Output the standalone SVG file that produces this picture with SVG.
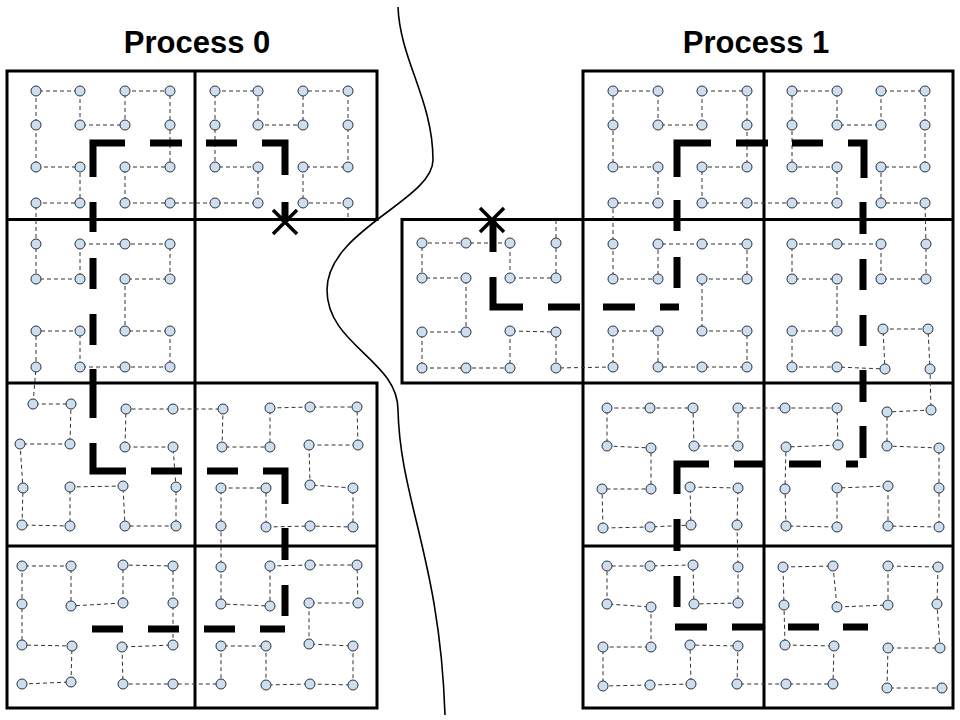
<svg xmlns="http://www.w3.org/2000/svg" width="960" height="720" viewBox="0 0 960 720">
<style>
.title{font-family:"Liberation Sans",Arial,sans-serif;font-weight:bold;font-size:31px;fill:#000;text-anchor:middle}
.grid{fill:none;stroke:#000;stroke-width:3;stroke-linecap:square}
.pt{fill:#cfdeee;stroke:#26323f;stroke-width:1}
.link{fill:none;stroke:#333;stroke-width:1;stroke-dasharray:4 3}
.thick{fill:none;stroke:#000;stroke-width:7;stroke-linecap:butt;stroke-linejoin:miter}
.xmark{fill:none;stroke:#000;stroke-width:3.5}
.sep{fill:none;stroke:#000;stroke-width:1.6}
</style>
<rect width="960" height="720" fill="#fff"/>
<text class="title" x="197" y="53">Process 0</text>
<text class="title" x="756" y="53">Process 1</text>
<path class="sep" d="M398,7 C400,60 433,100 433,160 C433,200 327,230 327,290 C327,345 398,360 398,410 C400,500 440,560 445,715"/>
<g id="grid">
<path class="grid" d="M7,71H377M7,219.5H377M7,383H377M7,546H377M7,708H377M7,71V708M195,71V708M377,71V219.5M377,383V708"/>
<path class="grid" d="M583,71H953M402,219.5H953M402,383H953M583,546H953M583,708H953M402,219.5V383M583,71V708M764,71V708M953,71V708"/>
</g>
<g id="connectors">
<polyline class="link" points="22,684 71,682 72,646 22,645 22,604 22,566 71,566 71,606 123,603 123,565 173,566 173,603 173,645 122,647 123,684 173,684 221,684 221,646 266,646 266,685 310,684 353,685 353,646 309,644 309,603 358,603 357,565 310,565 270,566 270,606 221,604 221,567 221,526 221,488 266,488 266,527 310,526 353,527 353,488 310,485 309,445 358,445 357,407 310,407 270,408 270,447 222,447 223,409 173,409 126,409 125,447 173,447 176,487 176,526 125,526 123,486 70,487 70,526 22,525 23,488 20,444 70,444 71,404 33,404 36,367 36,331 80,331 80,367 125,367 170,367 170,331 125,331 125,279 170,279 170,244 125,244 80,244 80,279 36,279 36,244 36,203 80,203 80,167 36,167 36,125 36,91 80,91 80,125 125,125 125,91 170,91 170,125 170,167 125,167 125,203 170,203 215,203 258,203 258,167 215,167 215,125 215,91 258,91 258,125 303,125 303,91 348,91 348,125 348,167 303,167 303,203 348,203 348,219"/>
<polyline class="link" points="556,220 556,243 556,278 510,278 510,243 466,243 422,243 422,278 466,278 466,332 422,332 422,368 466,368 510,368 510,331 556,332 556,368 613,367 613,331 658,331 658,367 702,367 747,367 747,331 702,331 702,279 747,279 747,244 702,244 658,244 658,279 613,279 613,244 613,203 658,203 658,167 613,167 613,125 613,91 658,91 658,125 702,125 702,91 747,91 747,125 747,167 702,167 702,203 747,203 792,203 837,203 837,167 792,167 792,125 792,91 837,91 837,125 881,125 881,91 925,91 925,125 925,167 881,167 881,203 925,203 926,244 926,279 881,279 881,244 837,244 792,244 792,279 837,279 837,331 792,331 792,367 837,367 885,369 883,329 928,329 930,369 931,410 887,412 887,446 939,448 939,488 939,527 888,526 888,486 837,488 837,527 786,526 785,489 786,447 838,445 837,408 785,408 738,408 738,446 694,446 693,408 650,408 607,408 607,446 651,448 651,489 602,489 603,528 650,527 691,525 690,487 738,488 737,525 738,567 738,603 694,604 693,565 650,566 607,566 607,604 651,607 651,647 603,647 603,686 650,685 691,684 690,645 738,646 737,684 786,684 833,684 834,646 785,645 784,605 783,567 833,566 837,607 888,605 888,566 938,567 937,604 940,648 888,648 887,688 942,688"/>
<path id="coarse-p0" class="thick" d="M125,143H93V177M150,143H182M206,143H237M262,143H285V175M285,202V222M93,202V232M93,258V289M93,314V345M93,369V418M93,443V471H126M151,471H182M207,471H238M263,471H285V504M285,528V560M285,585V616M92,629H123M148,629H179M204,629H235M260,629H285"/>
<path id="coarse-p1" class="thick" d="M493,220V252M493,277V307H523M548,307H580M603,307H635M660,307H679M677,257V288M677,200V231M711,143H677V177M736,143H768M792,143H823M848,143H864V178M863,202V234M863,259V290M863,315V346M863,370V402M863,426V458M846,464H858M789,464H821M734,464H764M709,464H677V494M677,519V551M677,576V607M675,627H707M732,627H763M788,627H819M843,627H868"/>
<path id="start-p0" class="xmark" d="M273,210L297,234M297,210L273,234"/>
<path id="start-p1" class="xmark" d="M480,208L504,232M504,208L480,232"/>
</g>
<g id="p0-c00" class="pt"><circle cx="36" cy="91" r="5"/><circle cx="80" cy="91" r="5"/><circle cx="125" cy="91" r="5"/><circle cx="170" cy="91" r="5"/><circle cx="36" cy="125" r="5"/><circle cx="80" cy="125" r="5"/><circle cx="125" cy="125" r="5"/><circle cx="170" cy="125" r="5"/><circle cx="36" cy="167" r="5"/><circle cx="80" cy="167" r="5"/><circle cx="125" cy="167" r="5"/><circle cx="170" cy="167" r="5"/><circle cx="36" cy="203" r="5"/><circle cx="80" cy="203" r="5"/><circle cx="125" cy="203" r="5"/><circle cx="170" cy="203" r="5"/></g>
<g id="p0-c01" class="pt"><circle cx="215" cy="91" r="5"/><circle cx="258" cy="91" r="5"/><circle cx="303" cy="91" r="5"/><circle cx="348" cy="91" r="5"/><circle cx="215" cy="125" r="5"/><circle cx="258" cy="125" r="5"/><circle cx="303" cy="125" r="5"/><circle cx="348" cy="125" r="5"/><circle cx="215" cy="167" r="5"/><circle cx="258" cy="167" r="5"/><circle cx="303" cy="167" r="5"/><circle cx="348" cy="167" r="5"/><circle cx="215" cy="203" r="5"/><circle cx="258" cy="203" r="5"/><circle cx="303" cy="203" r="5"/><circle cx="348" cy="203" r="5"/></g>
<g id="p0-c10" class="pt"><circle cx="36" cy="244" r="5"/><circle cx="80" cy="244" r="5"/><circle cx="125" cy="244" r="5"/><circle cx="170" cy="244" r="5"/><circle cx="36" cy="279" r="5"/><circle cx="80" cy="279" r="5"/><circle cx="125" cy="279" r="5"/><circle cx="170" cy="279" r="5"/><circle cx="36" cy="331" r="5"/><circle cx="80" cy="331" r="5"/><circle cx="125" cy="331" r="5"/><circle cx="170" cy="331" r="5"/><circle cx="36" cy="367" r="5"/><circle cx="80" cy="367" r="5"/><circle cx="125" cy="367" r="5"/><circle cx="170" cy="367" r="5"/></g>
<g id="p0-c20" class="pt"><circle cx="33" cy="404" r="5"/><circle cx="71" cy="404" r="5"/><circle cx="126" cy="409" r="5"/><circle cx="173" cy="409" r="5"/><circle cx="20" cy="444" r="5"/><circle cx="70" cy="444" r="5"/><circle cx="125" cy="447" r="5"/><circle cx="173" cy="447" r="5"/><circle cx="23" cy="488" r="5"/><circle cx="70" cy="487" r="5"/><circle cx="123" cy="486" r="5"/><circle cx="176" cy="487" r="5"/><circle cx="22" cy="525" r="5"/><circle cx="70" cy="526" r="5"/><circle cx="125" cy="526" r="5"/><circle cx="176" cy="526" r="5"/></g>
<g id="p0-c21" class="pt"><circle cx="223" cy="409" r="5"/><circle cx="270" cy="408" r="5"/><circle cx="310" cy="407" r="5"/><circle cx="357" cy="407" r="5"/><circle cx="222" cy="447" r="5"/><circle cx="270" cy="447" r="5"/><circle cx="309" cy="445" r="5"/><circle cx="358" cy="445" r="5"/><circle cx="221" cy="488" r="5"/><circle cx="266" cy="488" r="5"/><circle cx="310" cy="485" r="5"/><circle cx="353" cy="488" r="5"/><circle cx="221" cy="526" r="5"/><circle cx="266" cy="527" r="5"/><circle cx="310" cy="526" r="5"/><circle cx="353" cy="527" r="5"/></g>
<g id="p0-c30" class="pt"><circle cx="22" cy="566" r="5"/><circle cx="71" cy="566" r="5"/><circle cx="123" cy="565" r="5"/><circle cx="173" cy="566" r="5"/><circle cx="22" cy="604" r="5"/><circle cx="71" cy="606" r="5"/><circle cx="123" cy="603" r="5"/><circle cx="173" cy="603" r="5"/><circle cx="22" cy="645" r="5"/><circle cx="72" cy="646" r="5"/><circle cx="122" cy="647" r="5"/><circle cx="173" cy="645" r="5"/><circle cx="22" cy="684" r="5"/><circle cx="71" cy="682" r="5"/><circle cx="123" cy="684" r="5"/><circle cx="173" cy="684" r="5"/></g>
<g id="p0-c31" class="pt"><circle cx="221" cy="567" r="5"/><circle cx="270" cy="566" r="5"/><circle cx="310" cy="565" r="5"/><circle cx="357" cy="565" r="5"/><circle cx="221" cy="604" r="5"/><circle cx="270" cy="606" r="5"/><circle cx="309" cy="603" r="5"/><circle cx="358" cy="603" r="5"/><circle cx="221" cy="646" r="5"/><circle cx="266" cy="646" r="5"/><circle cx="309" cy="644" r="5"/><circle cx="353" cy="646" r="5"/><circle cx="221" cy="684" r="5"/><circle cx="266" cy="685" r="5"/><circle cx="310" cy="684" r="5"/><circle cx="353" cy="685" r="5"/></g>
<g id="p1-extra" class="pt"><circle cx="422" cy="243" r="5"/><circle cx="466" cy="243" r="5"/><circle cx="510" cy="243" r="5"/><circle cx="556" cy="243" r="5"/><circle cx="422" cy="278" r="5"/><circle cx="466" cy="278" r="5"/><circle cx="510" cy="278" r="5"/><circle cx="556" cy="278" r="5"/><circle cx="422" cy="332" r="5"/><circle cx="466" cy="332" r="5"/><circle cx="510" cy="331" r="5"/><circle cx="556" cy="332" r="5"/><circle cx="422" cy="368" r="5"/><circle cx="466" cy="368" r="5"/><circle cx="510" cy="368" r="5"/><circle cx="556" cy="368" r="5"/></g>
<g id="p1-c00" class="pt"><circle cx="613" cy="91" r="5"/><circle cx="658" cy="91" r="5"/><circle cx="702" cy="91" r="5"/><circle cx="747" cy="91" r="5"/><circle cx="613" cy="125" r="5"/><circle cx="658" cy="125" r="5"/><circle cx="702" cy="125" r="5"/><circle cx="747" cy="125" r="5"/><circle cx="613" cy="167" r="5"/><circle cx="658" cy="167" r="5"/><circle cx="702" cy="167" r="5"/><circle cx="747" cy="167" r="5"/><circle cx="613" cy="203" r="5"/><circle cx="658" cy="203" r="5"/><circle cx="702" cy="203" r="5"/><circle cx="747" cy="203" r="5"/></g>
<g id="p1-c01" class="pt"><circle cx="792" cy="91" r="5"/><circle cx="837" cy="91" r="5"/><circle cx="881" cy="91" r="5"/><circle cx="925" cy="91" r="5"/><circle cx="792" cy="125" r="5"/><circle cx="837" cy="125" r="5"/><circle cx="881" cy="125" r="5"/><circle cx="925" cy="125" r="5"/><circle cx="792" cy="167" r="5"/><circle cx="837" cy="167" r="5"/><circle cx="881" cy="167" r="5"/><circle cx="925" cy="167" r="5"/><circle cx="792" cy="203" r="5"/><circle cx="837" cy="203" r="5"/><circle cx="881" cy="203" r="5"/><circle cx="925" cy="203" r="5"/></g>
<g id="p1-c10" class="pt"><circle cx="613" cy="244" r="5"/><circle cx="658" cy="244" r="5"/><circle cx="702" cy="244" r="5"/><circle cx="747" cy="244" r="5"/><circle cx="613" cy="279" r="5"/><circle cx="658" cy="279" r="5"/><circle cx="702" cy="279" r="5"/><circle cx="747" cy="279" r="5"/><circle cx="613" cy="331" r="5"/><circle cx="658" cy="331" r="5"/><circle cx="702" cy="331" r="5"/><circle cx="747" cy="331" r="5"/><circle cx="613" cy="367" r="5"/><circle cx="658" cy="367" r="5"/><circle cx="702" cy="367" r="5"/><circle cx="747" cy="367" r="5"/></g>
<g id="p1-c11" class="pt"><circle cx="792" cy="244" r="5"/><circle cx="837" cy="244" r="5"/><circle cx="881" cy="244" r="5"/><circle cx="926" cy="244" r="5"/><circle cx="792" cy="279" r="5"/><circle cx="837" cy="279" r="5"/><circle cx="881" cy="279" r="5"/><circle cx="926" cy="279" r="5"/><circle cx="792" cy="331" r="5"/><circle cx="837" cy="331" r="5"/><circle cx="883" cy="329" r="5"/><circle cx="928" cy="329" r="5"/><circle cx="792" cy="367" r="5"/><circle cx="837" cy="367" r="5"/><circle cx="885" cy="369" r="5"/><circle cx="930" cy="369" r="5"/></g>
<g id="p1-c20" class="pt"><circle cx="607" cy="408" r="5"/><circle cx="650" cy="408" r="5"/><circle cx="693" cy="408" r="5"/><circle cx="738" cy="408" r="5"/><circle cx="607" cy="446" r="5"/><circle cx="651" cy="448" r="5"/><circle cx="694" cy="446" r="5"/><circle cx="738" cy="446" r="5"/><circle cx="602" cy="489" r="5"/><circle cx="651" cy="489" r="5"/><circle cx="690" cy="487" r="5"/><circle cx="738" cy="488" r="5"/><circle cx="603" cy="528" r="5"/><circle cx="650" cy="527" r="5"/><circle cx="691" cy="525" r="5"/><circle cx="737" cy="525" r="5"/></g>
<g id="p1-c21" class="pt"><circle cx="785" cy="408" r="5"/><circle cx="837" cy="408" r="5"/><circle cx="887" cy="412" r="5"/><circle cx="931" cy="410" r="5"/><circle cx="786" cy="447" r="5"/><circle cx="838" cy="445" r="5"/><circle cx="887" cy="446" r="5"/><circle cx="939" cy="448" r="5"/><circle cx="785" cy="489" r="5"/><circle cx="837" cy="488" r="5"/><circle cx="888" cy="486" r="5"/><circle cx="939" cy="488" r="5"/><circle cx="786" cy="526" r="5"/><circle cx="837" cy="527" r="5"/><circle cx="888" cy="526" r="5"/><circle cx="939" cy="527" r="5"/></g>
<g id="p1-c30" class="pt"><circle cx="607" cy="566" r="5"/><circle cx="650" cy="566" r="5"/><circle cx="693" cy="565" r="5"/><circle cx="738" cy="567" r="5"/><circle cx="607" cy="604" r="5"/><circle cx="651" cy="607" r="5"/><circle cx="694" cy="604" r="5"/><circle cx="738" cy="603" r="5"/><circle cx="603" cy="647" r="5"/><circle cx="651" cy="647" r="5"/><circle cx="690" cy="645" r="5"/><circle cx="738" cy="646" r="5"/><circle cx="603" cy="686" r="5"/><circle cx="650" cy="685" r="5"/><circle cx="691" cy="684" r="5"/><circle cx="737" cy="684" r="5"/></g>
<g id="p1-c31" class="pt"><circle cx="783" cy="567" r="5"/><circle cx="833" cy="566" r="5"/><circle cx="888" cy="566" r="5"/><circle cx="938" cy="567" r="5"/><circle cx="784" cy="605" r="5"/><circle cx="837" cy="607" r="5"/><circle cx="888" cy="605" r="5"/><circle cx="937" cy="604" r="5"/><circle cx="785" cy="645" r="5"/><circle cx="834" cy="646" r="5"/><circle cx="888" cy="648" r="5"/><circle cx="940" cy="648" r="5"/><circle cx="786" cy="684" r="5"/><circle cx="833" cy="684" r="5"/><circle cx="887" cy="688" r="5"/><circle cx="942" cy="688" r="5"/></g>
</svg>
